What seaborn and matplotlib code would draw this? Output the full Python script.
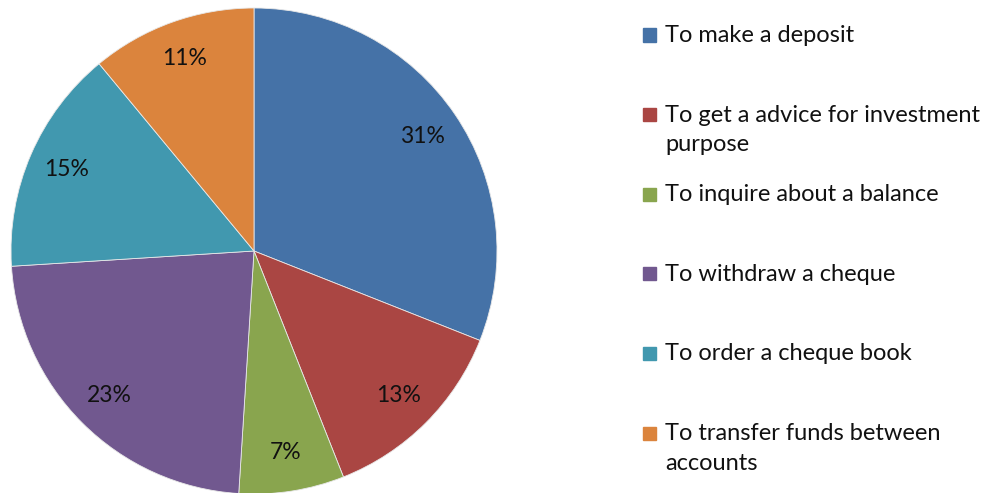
import seaborn as sns
import matplotlib.pyplot as plt
from matplotlib.patches import Rectangle

# data
reasons = [
    "To make a deposit",
    "To get a advice for investment\npurpose",
    "To inquire about a balance",
    "To withdraw a cheque",
    "To order a cheque book",
    "To transfer funds between\naccounts",
]
shares = [31, 13, 7, 23, 15, 11]
colors = ["#4572A7", "#AA4643", "#89A54E", "#71588F", "#4198AF", "#DB843D"]

sns.set_theme(style="white")
plt.rcParams['font.family'] = ['Lato', 'DejaVu Sans']

W, H = 995, 493
fig = plt.figure(figsize=(W / 100, H / 100), dpi=100)

# pie centred at (254, 251) px with radius 243 px
cx, cy, r = 254, 251, 243
ax = fig.add_axes([(cx - r) / W, (H - cy - r) / H, 2 * r / W, 2 * r / H])
palette = sns.color_palette(colors)
wedges, texts, autotexts = ax.pie(
    shares, colors=palette, startangle=90, counterclock=False,
    autopct='%1.0f%%', pctdistance=0.84,
    wedgeprops=dict(linewidth=0.6, edgecolor='#e8e8e8'),
    textprops=dict(fontsize=16.5, color='#111111'),
)
ax.set_xlim(-1, 1)
ax.set_ylim(-1, 1)
ax.set_aspect('equal')
ax.axis('off')
for w in wedges:
    w.set_clip_on(False)

# legend laid out like the original (fixed slot per entry)
y0, step = 35, 79.6
for i, (lab, col) in enumerate(zip(reasons, palette)):
    yc = y0 + i * step
    fig.add_artist(Rectangle((643 / W, (H - yc - 6.5) / H), 13 / W, 13 / H,
                             transform=fig.transFigure, color=col))
    fig.text(665 / W, (H - yc + 10) / H, lab, fontsize=17, color='#111111',
             ha='left', va='top', linespacing=1.5)

fig.savefig('out.png', dpi=100)
